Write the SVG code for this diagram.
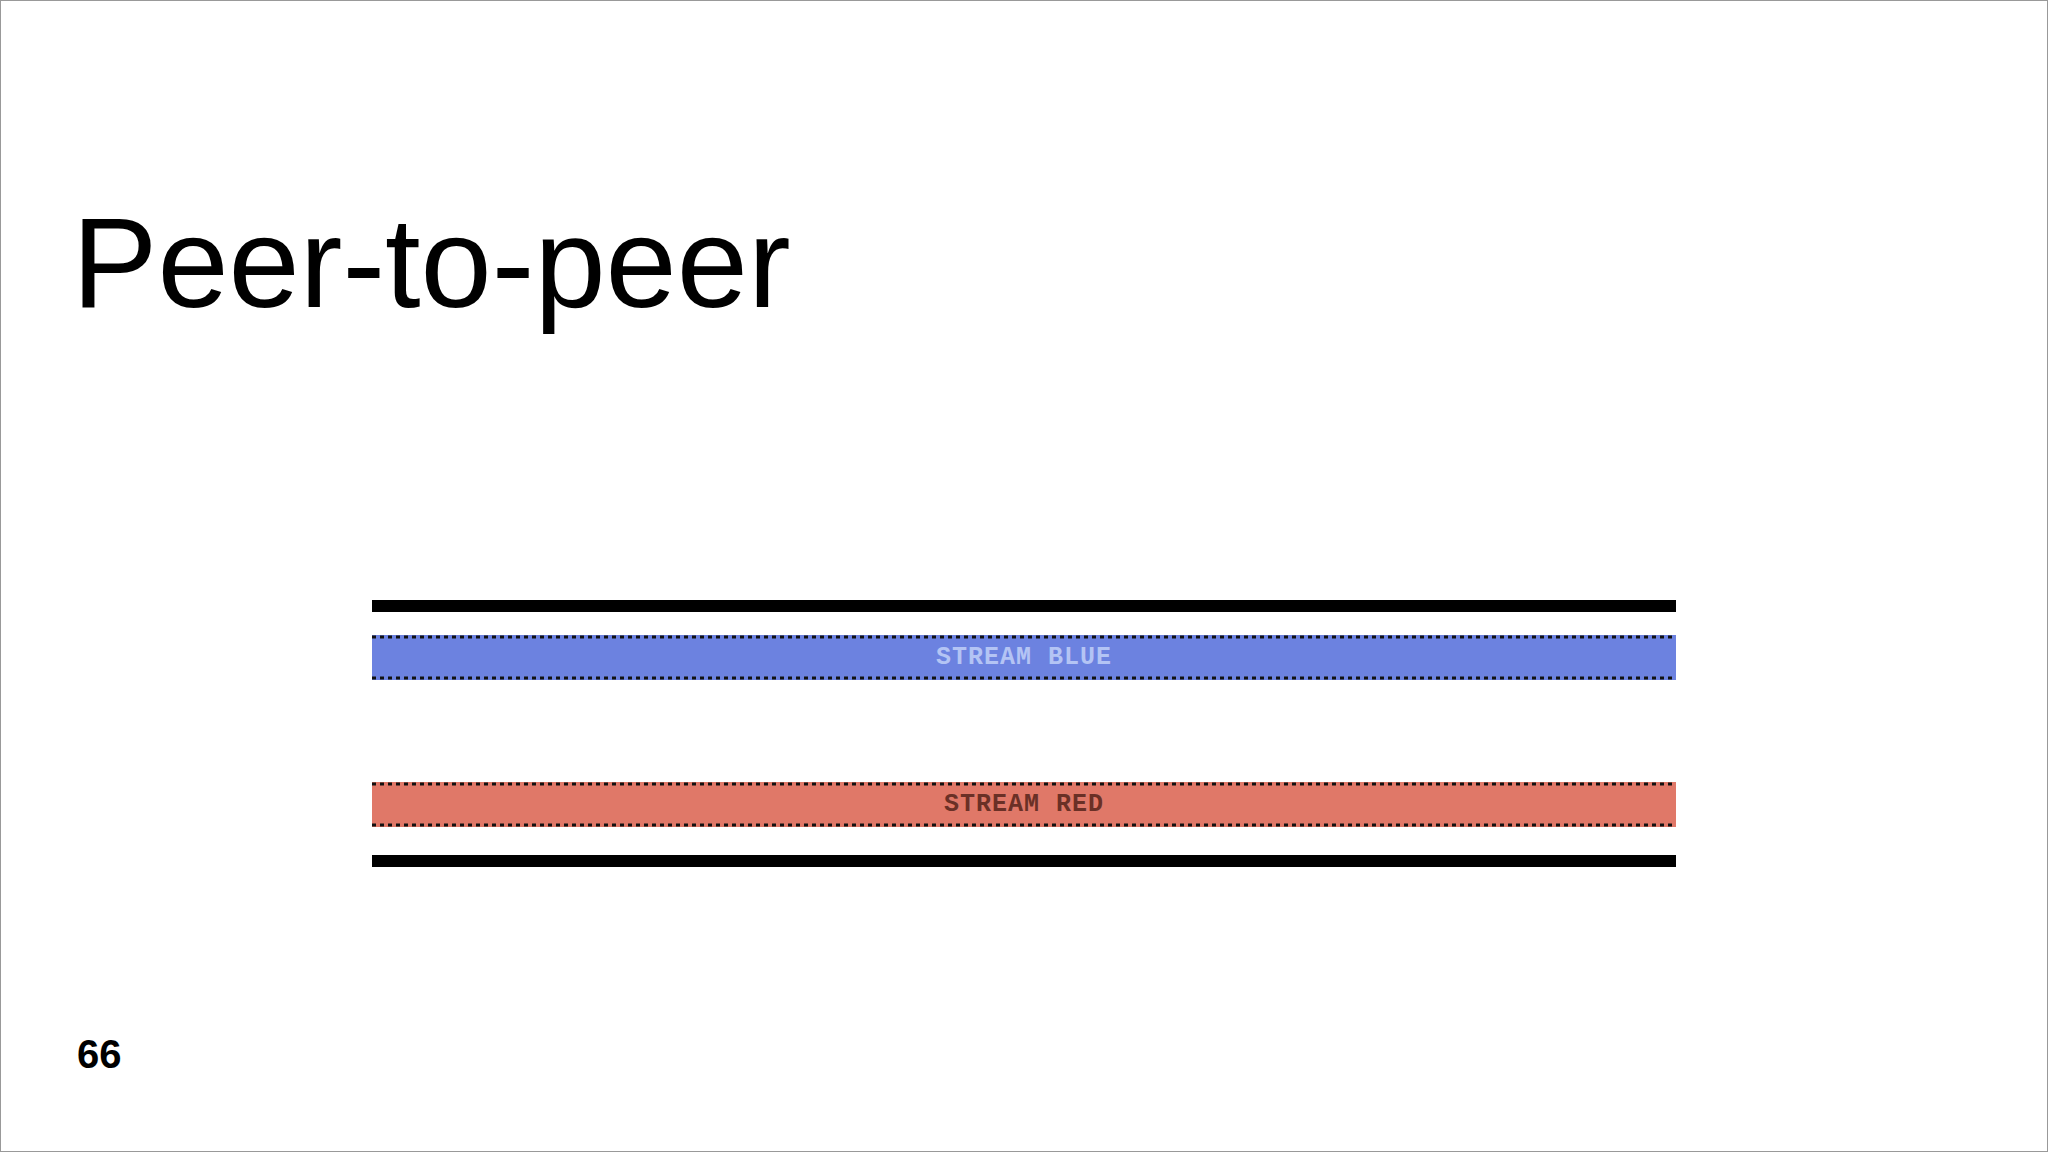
<svg xmlns="http://www.w3.org/2000/svg" width="2048" height="1152" viewBox="0 0 2048 1152">
<style>
.bar{fill:#000}
.dot{stroke:#111;stroke-width:3;stroke-dasharray:4 4;fill:none}
.lbl{font-family:"Liberation Mono",monospace;font-size:25px;font-weight:bold;text-anchor:middle;letter-spacing:1px}
</style>
<rect width="2048" height="1152" fill="#fff" stroke="#999" stroke-width="2"/>
<text x="72" y="307" font-family="Liberation Sans, Arial, sans-serif" font-size="128" fill="#000">Peer-to-peer</text>
<text x="77" y="1068" font-family="Liberation Sans, Arial, sans-serif" font-size="40" font-weight="bold" fill="#000">66</text>
<g id="peerTop"><rect class="bar" x="372" y="600" width="1304" height="12"/></g>
<g id="streamBlue">
<rect x="372" y="635" width="1304" height="45" fill="#6c82e0"/>
<line class="dot" x1="372" y1="637" x2="1676" y2="637"/>
<line class="dot" x1="372" y1="678" x2="1676" y2="678"/>
<text class="lbl" x="1024" y="664" fill="#b4c4f4">STREAM BLUE</text>
</g>
<g id="streamRed">
<rect x="372" y="782" width="1304" height="45" fill="#e07868"/>
<line class="dot" x1="372" y1="784" x2="1676" y2="784"/>
<line class="dot" x1="372" y1="825" x2="1676" y2="825"/>
<text class="lbl" x="1024" y="811" fill="#6a3026">STREAM RED</text>
</g>
<g id="peerBottom"><rect class="bar" x="372" y="855" width="1304" height="12"/></g>
<g id="connectors"></g>
</svg>
